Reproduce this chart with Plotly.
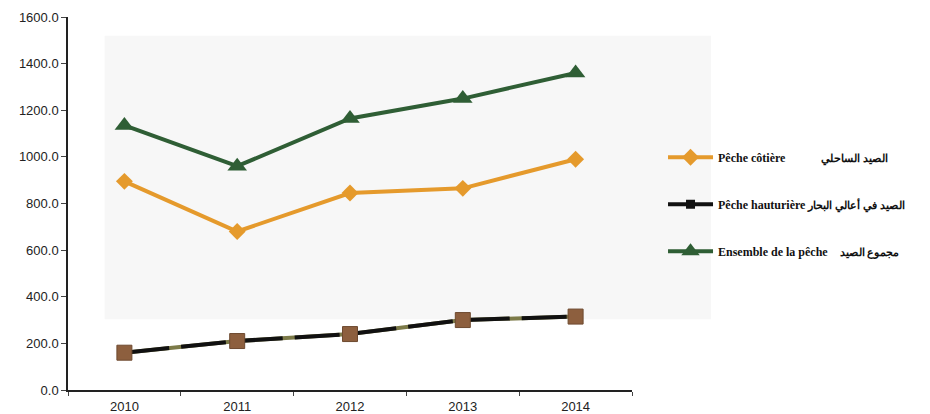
import plotly.graph_objects as go

years = ["2010", "2011", "2012", "2013", "2014"]
cotiere = [895, 680, 845, 865, 990]
hauturiere = [160, 210, 240, 300, 315]
ensemble = [1135, 960, 1165, 1250, 1360]
y_ticks = [0, 200, 400, 600, 800, 1000, 1200, 1400, 1600]
y_ticklabels = ["0.0", "200.0", "400.0", "600.0", "800.0", "1000.0", "1200.0", "1400.0", "1600.0"]
names_fr = ["Pêche côtière", "Pêche hauturière", "Ensemble de la pêche"]
names_ar = ["الصيد الساحلي", "الصيد في أعالي البحار", "مجموع الصيد"]
gaps = ["\u00a0" * 12, "\u00a0", "\u00a0" * 4]
names = [f"{fr}{g}<span style='font-size:11px'>{ar}</span>"
         for fr, g, ar in zip(names_fr, gaps, names_ar)]

ORANGE = "#e59a2c"
GREEN = "#2f5e35"
OLIVE = "#7c7a48"
BROWN = "#8d5f3e"

fig = go.Figure()

# Hauturière: olive base line + black dashes + brown squares
fig.add_trace(go.Scatter(x=years, y=hauturiere, mode="lines",
                         line=dict(color=OLIVE, width=4), showlegend=False, hoverinfo="skip"))
fig.add_trace(go.Scatter(x=years, y=hauturiere, mode="lines",
                         line=dict(color="#111111", width=4, dash="45px,12px"),
                         showlegend=False, hoverinfo="skip"))
fig.add_trace(go.Scatter(x=years, y=hauturiere, mode="markers",
                         marker=dict(symbol="square", size=15, color=BROWN,
                                     line=dict(color="#6e4a30", width=1)),
                         showlegend=False))

fig.add_trace(go.Scatter(x=years, y=cotiere, mode="lines+markers", name=names[0],
                         line=dict(color=ORANGE, width=4),
                         marker=dict(symbol="diamond", size=13, color=ORANGE),
                         legendgroup="a", legendrank=1))
fig.add_trace(go.Scatter(x=[None], y=[None], mode="lines+markers", name=names[1],
                         line=dict(color="#111111", width=4),
                         marker=dict(symbol="square", size=9, color="#111111"),
                         legendgroup="b", legendrank=2))
fig.add_trace(go.Scatter(x=years, y=ensemble, mode="lines+markers", name=names[2],
                         line=dict(color=GREEN, width=4),
                         marker=dict(symbol="triangle-up", size=17, color=GREEN),
                         legendgroup="c", legendrank=3))

fig.add_shape(type="rect", xref="paper", yref="paper", x0=0.065, x1=1.14, y0=0.19, y1=0.95,
              fillcolor="#f7f7f7", line=dict(width=0), layer="below")

fig.update_layout(
    width=930, height=414,
    margin=dict(l=68, r=298, t=17, b=24, autoexpand=False),
    paper_bgcolor="white", plot_bgcolor="rgba(0,0,0,0)",
    font=dict(family="Liberation Sans, Arial, sans-serif", size=13, color="#222222"),
    showlegend=True,
    legend=dict(x=1.055, y=0.663, xanchor="left", yanchor="top", itemwidth=45,
                bgcolor="rgba(0,0,0,0)", tracegroupgap=28, traceorder="grouped",
                font=dict(family="Liberation Serif, serif", size=12, color="#111111", weight="bold")),
    xaxis=dict(type="category", range=[-0.5, 4.5], showgrid=False, zeroline=False,
               showline=True, linecolor="#222222", linewidth=1.5, automargin=False,
               ticks="outside", tickson="boundaries", ticklen=4, tickcolor="#444444",
               ticklabelstandoff=4, tickfont=dict(size=13)),
    yaxis=dict(range=[0, 1600], tickvals=y_ticks, ticktext=y_ticklabels, automargin=False,
               showgrid=False, zeroline=False, showline=True, linecolor="#222222",
               linewidth=1.5, ticks="outside", ticklen=5, tickcolor="#444444",
               tickfont=dict(size=13)),
)

fig.write_html("out.html", config={"displayModeBar": False},
               post_script="document.body.style.margin='0';document.body.style.overflow='hidden';")
